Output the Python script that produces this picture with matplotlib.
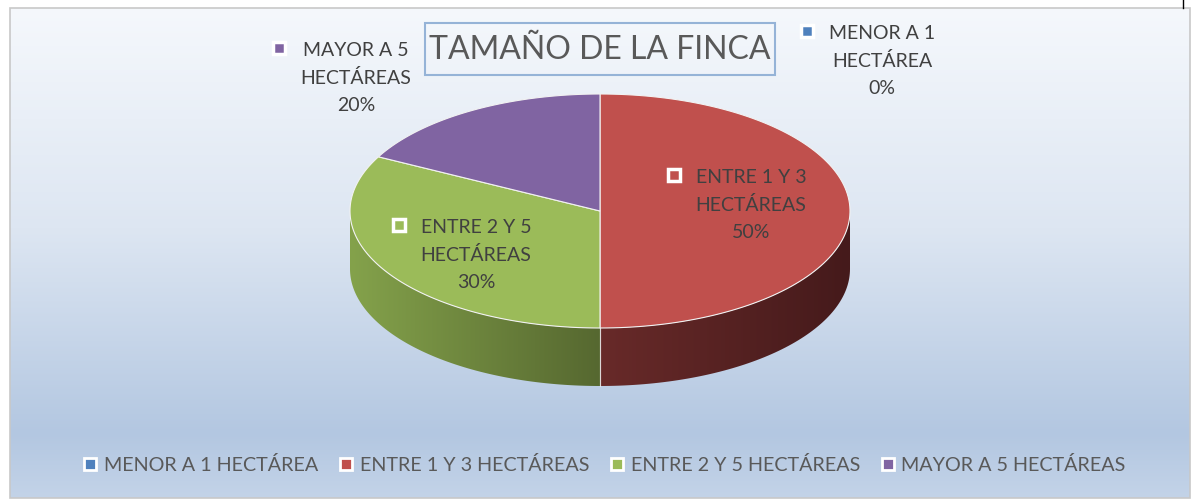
import numpy as np
import matplotlib
matplotlib.use("Agg")
import matplotlib.pyplot as plt
from matplotlib.patches import Polygon, Rectangle
from matplotlib.colors import LinearSegmentedColormap
from matplotlib.lines import Line2D

# chart data
categories = ["MENOR A 1 HECTÁREA", "ENTRE 1 Y 3 HECTÁREAS",
              "ENTRE 2 Y 5 HECTÁREAS", "MAYOR A 5 HECTÁREAS"]
label_text = ["MENOR A 1\nHECTÁREA", "ENTRE 1 Y 3\nHECTÁREAS",
              "ENTRE 2 Y 5\nHECTÁREAS", "MAYOR A 5\nHECTÁREAS"]
values = [0, 50, 30, 20]
colors = ["#4f81bd", "#c0504d", "#9bbb59", "#8064a2"]
side_colors = [("#3a5f8a", "#2a4466"), ("#682a29", "#451a1b"),
               ("#84a24b", "#566830"), ("#5e4a78", "#433556")]
title = "TAMAÑO DE LA FINCA"

# label anchor positions (pixels) for each slice label
label_pos = [(882, 61), (751, 205), (476, 255), (356, 78)]

W, H = 1194, 499
fig = plt.figure(figsize=(W / 100, H / 100), dpi=100)
ax = fig.add_axes([0, 0, 1, 1])
ax.set_xlim(0, W)
ax.set_ylim(H, 0)
ax.axis("off")

# background
bg = LinearSegmentedColormap.from_list(
    "bg", [(0, "#f5f8fc"), (0.45, "#dde6f2"), (0.87, "#b3c7e1"), (1, "#c3d3e8")])
grad = np.linspace(0, 1, 256).reshape(-1, 1)
ax.imshow(grad, cmap=bg, extent=(10, 1190, 498, 8), aspect="auto", zorder=0)
ax.add_patch(Rectangle((10, 8), 1180, 490, fill=False, ec="#c8c8c8", lw=1.2, zorder=1))
ax.plot([1183, 1183], [0, 8], color="black", lw=1, zorder=1)

# 3d pie geometry (beta = perspective squeeze toward the back)
cx, cy, a, b, depth, beta = 600, 211, 250, 117, 58, 0.18


def persp(t):
    # true angle -> projected ellipse parameter
    t = np.radians(t)
    c = (np.cos(t) + beta) / (1 + beta * np.cos(t))
    s = np.sin(t) * np.sqrt(1 - beta ** 2) / (1 + beta * np.cos(t))
    return np.degrees(np.arctan2(s, c)) % 360


def ell(t):
    t = np.radians(t)
    return cx + a * np.sin(t), cy - b * np.cos(t)


total = sum(values)
bounds = np.concatenate([[0], np.cumsum(values) / total * 360])
pb = [persp(t) for t in bounds]
pb[0] = 0.0
pb[-1] = 360.0
for k in range(1, len(pb)):
    if pb[k] < pb[k - 1]:
        pb[k] += 360

# side walls (front half only, 90..270 deg)
for i in range(len(values)):
    t1, t2 = max(pb[i], 90), min(pb[i + 1], 270)
    if t2 <= t1:
        continue
    ts = np.linspace(t1, t2, 80)
    xs, ys = ell(ts)
    pts = np.column_stack([np.concatenate([xs, xs[::-1]]),
                           np.concatenate([ys, ys[::-1] + depth])])
    poly = Polygon(pts, closed=True, fc="none", ec="none", zorder=2)
    ax.add_patch(poly)
    cmap = LinearSegmentedColormap.from_list("s%d" % i, side_colors[i])
    x0, x1 = pts[:, 0].min(), pts[:, 0].max()
    y0, y1 = pts[:, 1].min(), pts[:, 1].max()
    g = np.linspace(0, 1, 256).reshape(1, -1)
    im = ax.imshow(g, cmap=cmap, extent=(x0, x1, y1, y0), aspect="auto", zorder=2)
    im.set_clip_path(poly)
    for t in (t1, t2):
        if 90 < t < 270:
            ex, ey = ell(t)
            ax.plot([ex, ex], [ey, ey + depth], color="#e8e8e8", lw=0.8, alpha=0.7, zorder=3)

# top faces
for i in range(len(values)):
    if values[i] == 0:
        continue
    ts = np.linspace(pb[i], pb[i + 1], 120)
    xs, ys = ell(ts)
    pts = np.column_stack([np.concatenate([[cx], xs]), np.concatenate([[cy], ys])])
    ax.add_patch(Polygon(pts, closed=True, fc=colors[i], ec="#f2f2f2",
                         lw=0.8, zorder=4))

# data labels
for i in range(len(values)):
    lx, ly = label_pos[i]
    txt = "%s\n%d%%" % (label_text[i], round(values[i] / total * 100))
    t = ax.text(lx, ly, txt, ha="center", va="center", fontsize=14,
                family="Lato", color="#404040", linespacing=1.7, zorder=6)
    fig.canvas.draw()
    bb = t.get_window_extent().transformed(ax.transData.inverted())
    ax.plot(bb.x0 - 22, ly - 30, marker="s", ms=9, mfc=colors[i],
            mec="white", mew=2.5, zorder=6)

# title
ax.add_patch(Rectangle((425, 23), 350, 52, fill=False, ec="#95b3d7", lw=1.5, zorder=5))
ax.text(600, 50, title, ha="center", va="center", fontsize=23,
        family="Lato", color="#595959", zorder=6)

# legend
handles = [Line2D([], [], ls="none", marker="s", ms=8, mfc=c, mec="white", mew=2)
           for c in colors]
fig.legend(handles, categories, loc="center", bbox_to_anchor=(605 / W, 1 - 465 / H),
           ncol=4, frameon=False, handlelength=0.6, handletextpad=0.4,
           columnspacing=1.1, prop={"family": "Lato", "size": 14.2},
           labelcolor="#595959")

fig.savefig("out.png", dpi=100)
